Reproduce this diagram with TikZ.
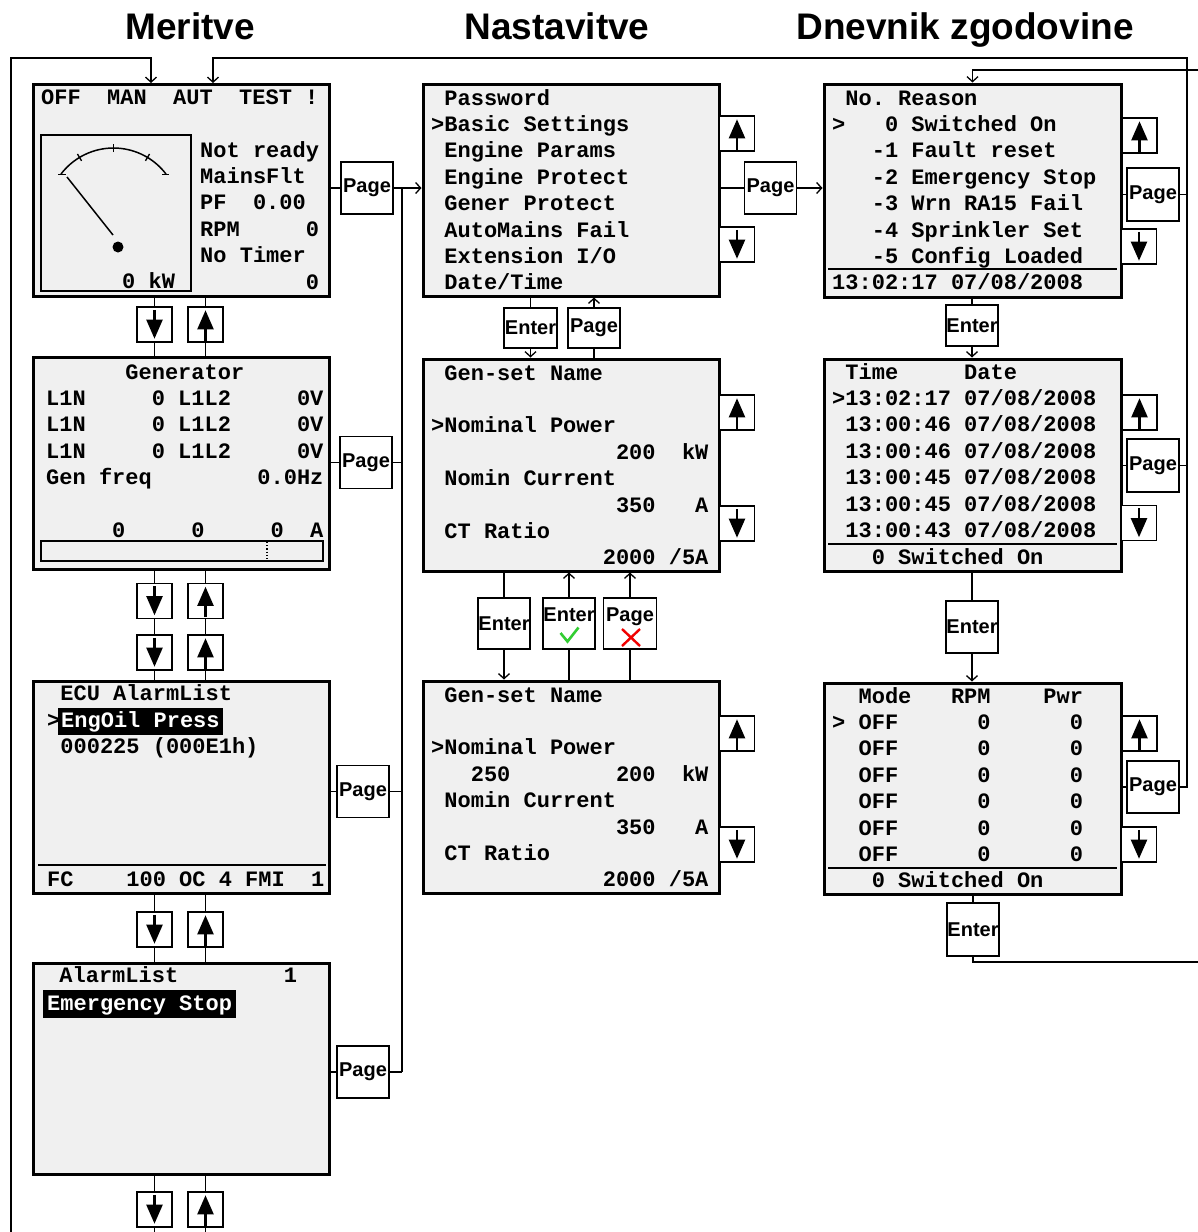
\documentclass[tikz,border=0pt]{standalone}
\usepackage{fontspec}
\setmainfont{Liberation Sans}
\newfontfamily\scrfont{Liberation Mono}
\newfontfamily\lblfont{Liberation Sans}
\usetikzlibrary{arrows.meta}
\definecolor{scrbg}{RGB}{240,240,240}
\definecolor{okgreen}{RGB}{50,205,50}
\definecolor{xred}{RGB}{240,0,0}
\tikzset{
  scr/.style={draw=black, line width=3pt, fill=scrbg, inner sep=0pt},
  mono/.style={font=\scrfont\bfseries\fontsize{22}{26.4}\selectfont, inner sep=0pt, anchor=base west},
  hilite/.style={mono, fill=black, text=white},
  btn/.style={draw=black, line width=1.4pt, fill=white, inner sep=0pt, minimum width=35pt, minimum height=35pt},
  keybox/.style={draw=black, line width=1.4pt, fill=white, inner sep=0pt, minimum width=52pt, minimum height=52pt, font=\lblfont\bfseries\fontsize{20}{22}\selectfont},
  lbl/.style={font=\lblfont\bfseries\fontsize{20}{22}\selectfont, inner sep=0pt, anchor=base},
  conn/.style={line width=1.3pt},
  arr/.style={conn, -{Straight Barb[length=5pt,width=11pt]}},
  glyph/.style={line width=2.2pt, -{Triangle[length=19pt,width=16pt]}},
  ttl/.style={font=\lblfont\bfseries\fontsize{37}{40}\selectfont, inner sep=0pt, anchor=base},
  thin/.style={line width=1.3pt}
}
\newcommand\scrlines[4]{\foreach \scrtxt [count=\i from 0] in {#4} {\node[mono] (#1-\i) at (#2,{#3+\i*26.4}) {\scrtxt};}}
\newcommand\dnbtn[3]{\node[btn] (#1) at (#2,#3) {}; \draw[glyph] ([yshift=-3.5pt]#1.north) -- ([yshift=4pt]#1.south);}
\newcommand\upbtn[3]{\node[btn] (#1) at (#2,#3) {}; \draw[glyph] ([yshift=2pt]#1.south) -- ([yshift=-4pt]#1.north);}
\begin{document}
\begin{tikzpicture}[x=1pt,y=-1pt]
\useasboundingbox (0,0) rectangle (1198,1232);

% titles
\node[ttl] (t1) at (190,39) {Meritve};
\node[ttl] (t2) at (557,39) {Nastavitve};
\node[ttl] (t3) at (965,39) {Dnevnik zgodovine};

% screens
\node[scr, minimum width=296pt, minimum height=212pt] (B1) at (181,190.5) {};
\node[scr, minimum width=296pt, minimum height=212pt] (B2) at (181,463) {};
\node[scr, minimum width=296pt, minimum height=212pt] (B3) at (181,787) {};
\node[scr, minimum width=296pt, minimum height=211pt] (B4) at (181,1068.5) {};
\node[scr, minimum width=296pt, minimum height=212pt] (S1) at (571,190) {};
\node[scr, minimum width=296pt, minimum height=212pt] (S2) at (571,465) {};
\node[scr, minimum width=296pt, minimum height=212pt] (S3) at (571,787) {};
\node[scr, minimum width=297pt, minimum height=213pt] (H1) at (972.5,190.5) {};
\node[scr, minimum width=297pt, minimum height=212pt] (H2) at (972.5,465) {};
\node[scr, minimum width=297pt, minimum height=211pt] (H3) at (972.5,788.5) {};

% ---- B1 contents
\node[mono] (b1top) at (41,104) {OFF~~MAN~~AUT~~TEST~!};
\node[draw, line width=1.5pt, inner sep=0pt, minimum width=150pt, minimum height=156pt] (gauge) at (116,213) {};
\draw[line width=1.5pt] (113.5,214) ++(142.7:66pt) arc[start angle=142.7, end angle=37.3, radius=66pt];
\foreach \a in {121,90,59} \draw[line width=1.3pt] (113.5,214) ++(\a:62pt) -- ++(\a:8pt);
\draw[line width=1.3pt] (58,174.5) -- (66,174.5) (162,174.5) -- (169,174.5);
\draw[line width=1.5pt] (67,177) -- (113,235);
\fill (118,247) circle[radius=5.5pt];
\node[mono] (b1kw) at (122,288) {0~kW};
\scrlines{b1r}{200}{157}{Not~ready, MainsFlt, PF~~0.00, RPM~~~~~0, No~Timer, ~~~~~~~~0}

% ---- B2 contents
\scrlines{b2}{46}{379}{~~~~~~Generator, L1N~~~~~0~L1L2~~~~~0V, L1N~~~~~0~L1L2~~~~~0V, L1N~~~~~0~L1L2~~~~~0V, Gen~freq~~~~~~~~0.0Hz}
\node[mono] (b2bot) at (46,537) {~~~~~0~~~~~0~~~~~0~~A};
\node[draw, line width=1.3pt, inner sep=0pt, minimum width=282pt, minimum height=20pt] (bar) at (182,551) {};
\draw[line width=1.2pt, dotted] (267,542) -- (267,560);

% ---- B3 contents
\node[mono] (b3t) at (47,700) {~ECU~AlarmList};
\node[mono] (b3gt) at (47,727) {>};
\node[hilite, inner xsep=3pt, text height=17pt, text depth=6pt, inner ysep=2pt] (b3h) at (58,727) {EngOil~Press};
\node[mono] (b3c) at (47,753) {~000225~(000E1h)};
\draw[thin] (38,865) -- (326,865);
\node[mono] (b3b) at (47,886) {FC~~~~100~OC~4~FMI~~1};

% ---- B4 contents
\node[mono] (b4t) at (46,982) {~AlarmList~~~~~~~~1};
\node[hilite, inner xsep=4pt, text height=18pt, text depth=5pt, inner ysep=2.5pt] (b4h) at (43,1010) {Emergency~Stop};

% ---- Settings contents
\scrlines{s1}{431}{105}{~Password, >Basic~Settings, ~Engine~Params, ~Engine~Protect, ~Gener~Protect, ~AutoMains~Fail, ~Extension~I/O, ~Date/Time}
\scrlines{s2}{431}{380}{~Gen-set~Name, {}, >Nominal~Power, ~~~~~~~~~~~~~~200~~kW, ~Nomin~Current, ~~~~~~~~~~~~~~350~~~A, ~CT~Ratio, ~~~~~~~~~~~~~2000~/5A}
\scrlines{s3}{431}{702}{~Gen-set~Name, {}, >Nominal~Power, ~~~250~~~~~~~~200~~kW, ~Nomin~Current, ~~~~~~~~~~~~~~350~~~A, ~CT~Ratio, ~~~~~~~~~~~~~2000~/5A}

% ---- History contents
\scrlines{h1}{832}{105}{~No.~Reason, >~~~0~Switched~On, ~~~-1~Fault~reset, ~~~-2~Emergency~Stop, ~~~-3~Wrn~RA15~Fail, ~~~-4~Sprinkler~Set, ~~~-5~Config~Loaded}
\draw[thin] (828,269) -- (1117,269);
\node[mono] (h1b) at (832,289) {13:02:17~07/08/2008};
\scrlines{h2}{832}{379}{~Time~~~~~Date, >13:02:17~07/08/2008, ~13:00:46~07/08/2008, ~13:00:46~07/08/2008, ~13:00:45~07/08/2008, ~13:00:45~07/08/2008, ~13:00:43~07/08/2008}
\draw[thin] (828,544) -- (1117,544);
\node[mono] (h2b) at (832,564) {~~~0~Switched~On};
\scrlines{h3}{832}{703}{~~Mode~~~RPM~~~~Pwr, >~OFF~~~~~~0~~~~~~0, ~~OFF~~~~~~0~~~~~~0, ~~OFF~~~~~~0~~~~~~0, ~~OFF~~~~~~0~~~~~~0, ~~OFF~~~~~~0~~~~~~0, ~~OFF~~~~~~0~~~~~~0}
\draw[thin] (828,868) -- (1117,868);
\node[mono] (h3b) at (832,887) {~~~0~Switched~On};

% ---- column 1 arrow buttons
\dnbtn{dA1}{154.5}{324.5} \upbtn{uA1}{205.5}{324.5}
\dnbtn{dA2}{154.5}{601}   \upbtn{uA2}{205.5}{601}
\dnbtn{dA3}{154.5}{652.5} \upbtn{uA3}{205.5}{652.5}
\dnbtn{dA4}{154.5}{929.5} \upbtn{uA4}{205.5}{929.5}
\dnbtn{dA5}{154.5}{1209.5} \upbtn{uA5}{205.5}{1209.5}
\coordinate (botL) at (0,1232);
\foreach \d/\u/\a/\b in {dA1/uA1/B1/B2, dA4/uA4/B3/B4} {
  \draw[conn] (\d.north |- \a.south) -- (\d.north) (\d.south) -- (\d.south |- \b.north);
  \draw[conn] (\u.north |- \a.south) -- (\u.north) (\u.south) -- (\u.south |- \b.north);
}
\draw[conn] (dA2.north |- B2.south) -- (dA2.north) (dA2.south) -- (dA3.north) (dA3.south) -- (dA3.south |- B3.north);
\draw[conn] (uA2.north |- B2.south) -- (uA2.north) (uA2.south) -- (uA3.north) (uA3.south) -- (uA3.south |- B3.north);
\draw[conn] (dA5.north |- B4.south) -- (dA5.north) (dA5.south) -- (dA5.south |- botL);
\draw[conn] (uA5.north |- B4.south) -- (uA5.north) (uA5.south) -- (uA5.south |- botL);

% ---- column 1 page keys
\node[keybox] (P1) at (367,188) {Page};
\node[keybox] (P2) at (366,462.5) {Page};
\node[keybox] (P3) at (363,791.5) {Page};
\node[keybox] (P4) at (363,1072) {Page};
\coordinate (vt) at (402,188);
\coordinate (vb) at (402,1072);
\draw[conn] (vt) -- (vb);
\draw[conn] (B1.east |- P1.west) -- (P1.west);
\draw[arr] (P1.east) -- (S1.west |- P1.east);
\draw[conn] (B2.east |- P2.west) -- (P2.west) (P2.east) -- (P2.east -| vt);
\draw[conn] (B3.east |- P3.west) -- (P3.west) (P3.east) -- (P3.east -| vt);
\draw[conn] (B4.east |- P4.west) -- (P4.west) (P4.east) -- (P4.east -| vt);

% ---- settings side buttons
\upbtn{uS1}{737}{133.5} \dnbtn{dS1}{737}{244.5}
\upbtn{uS2}{737}{412.5} \dnbtn{dS2}{737}{523.5}
\upbtn{uS3}{737}{733.5} \dnbtn{dS3}{737}{844.5}
\node[keybox] (PgS1) at (770.5,188) {Page};
\draw[conn] (S1.east |- PgS1.west) -- (PgS1.west);
\draw[arr] (PgS1.east) -- (H1.west |- PgS1.east);

% ---- settings enter/page keys
\node[keybox, minimum width=53pt, minimum height=40pt] (EnS1) at (530.5,328) {Enter};
\node[keybox, minimum height=40pt] (PgS12) at (594,328) {Page};
\draw[conn] (EnS1.north |- S1.south) -- (EnS1.north);
\draw[arr] (EnS1.south) -- (EnS1.south |- S2.north);
\draw[conn] (PgS12.south |- S2.north) -- (PgS12.south);
\draw[arr] (PgS12.north) -- (PgS12.north |- S1.south);

\node[keybox, minimum height=51pt] (EnS2) at (504,623.5) {Enter};
\node[keybox, minimum height=51pt] (EnOk) at (569,623.5) {};
\node[keybox, minimum width=53pt, minimum height=51pt] (PgX) at (630,623.5) {};
\node[lbl] (EnOkT) at (569,621.5) {Enter};
\node[lbl] (PgXT) at (630,621.5) {Page};
\draw[okgreen, line width=2.6pt] (560.5,633) -- (567.5,641.5) -- (578.5,627.5);
\draw[xred, line width=2.4pt] (622,629) -- (640,646) (622,646) -- (640,629);
\draw[conn] (EnS2.north |- S2.south) -- (EnS2.north);
\draw[arr] (EnS2.south) -- (EnS2.south |- S3.north);
\draw[conn] (EnOk.south |- S3.north) -- (EnOk.south);
\draw[arr] (EnOk.north) -- (EnOk.north |- S2.south);
\draw[conn] (PgX.south |- S3.north) -- (PgX.south);
\draw[arr] (PgX.north) -- (PgX.north |- S2.south);

% ---- history side buttons
\upbtn{uH1}{1139.5}{135.5} \dnbtn{dH1}{1139}{246.5}
\upbtn{uH2}{1139.5}{412.5} \dnbtn{dH2}{1139}{523}
\upbtn{uH3}{1139.5}{733.5} \dnbtn{dH3}{1139}{844.5}
\node[keybox, minimum height=53pt] (PgH1) at (1153,194.5) {Page};
\node[keybox, minimum height=53pt] (PgH2) at (1153,465.5) {Page};
\node[keybox] (PgH3) at (1153,787) {Page};
\draw[conn] (H1.east |- PgH1.west) -- (PgH1.west);
\draw[conn] (H2.east |- PgH2.west) -- (PgH2.west);
\draw[conn] (H3.east |- PgH3.west) -- (PgH3.west);

% ---- history enter keys
\node[keybox, minimum height=41pt] (EnH1) at (972,325.5) {Enter};
\node[keybox] (EnH2) at (972,627) {Enter};
\node[keybox, minimum height=53pt] (EnH3) at (973,929.5) {Enter};
\draw[conn] (EnH1.north |- H1.south) -- (EnH1.north);
\draw[arr] (EnH1.south) -- (EnH1.south |- H2.north);
\draw[conn] (EnH2.north |- H2.south) -- (EnH2.north);
\draw[arr] (EnH2.south) -- (EnH2.south |- H3.north);
\draw[conn] (EnH3.north |- H3.south) -- (EnH3.north);
\coordinate (EbR) at (1198,962);
\draw[conn] (EnH3.south) |- (EbR);
\coordinate (EtR) at (1198,70);
\draw[arr] (EtR) -| (H1.north);

% ---- outer loops
\coordinate (Rtop) at (1187,58);
\draw[arr] (PgH3.east) -| (Rtop) -| ([xshift=32pt]B1.north);
\draw[conn] (PgH1.east) -- (PgH1.east -| Rtop);
\draw[conn] (PgH2.east) -- (PgH2.east -| Rtop);
\coordinate (Ltop) at (11,58);
\coordinate (Lbot) at (11,1232);
\draw[arr] (Lbot) -- (Ltop) -| ([xshift=-30pt]B1.north);
\end{tikzpicture}
\end{document}
